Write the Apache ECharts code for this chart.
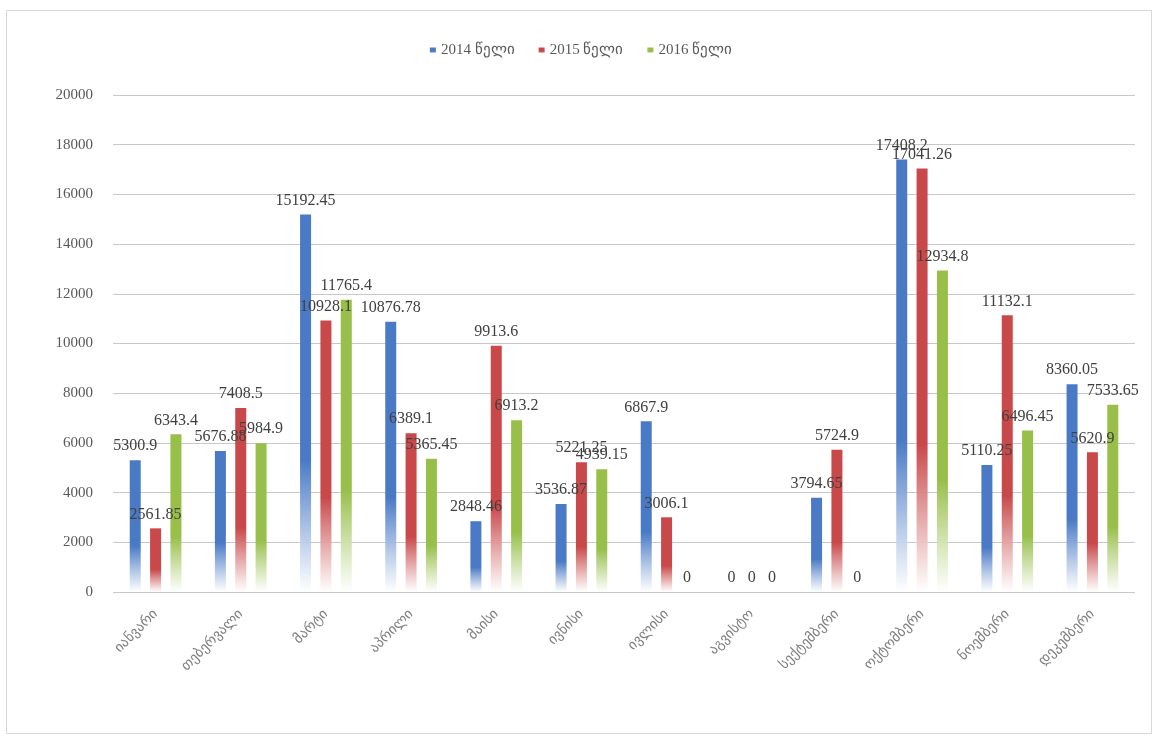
<!DOCTYPE html>
<html>
<head>
<meta charset="utf-8">
<script src="https://cdn.jsdelivr.net/npm/echarts@6/dist/echarts.min.js"></script>
<style>
  html, body { margin: 0; padding: 0; background: #fff; }
  #frame { position: absolute; left: 6px; top: 10px; width: 1146px; height: 724px; border: 1px solid #d9d9d9; box-sizing: border-box; }
  #main { width: 1162px; height: 742px; }
</style>
</head>
<body>
<div id="frame"></div>
<div id="main"></div>
<script>
// თვეები
const months = ['იანვარი', 'თებერვალი', 'მარტი', 'აპრილი', 'მაისი', 'ივნისი',
  'ივლისი', 'აგვისტო', 'სექტემბერი', 'ოქტომბერი', 'ნოემბერი', 'დეკემბერი'];
const seriesNames = ['2014 წელი', '2015 წელი', '2016 წელი'];
const values2014 = [5300.9, 5676.88, 15192.45, 10876.78, 2848.46, 3536.87, 6867.9, 0, 3794.65, 17408.2, 5110.25, 8360.05];
const values2015 = [2561.85, 7408.5, 10928.1, 6389.1, 9913.6, 5221.25, 3006.1, 0, 5724.9, 17041.26, 11132.1, 5620.9];
const values2016 = [6343.4, 5984.9, 11765.4, 5365.45, 6913.2, 4939.15, 0, 0, 0, 12934.8, 6496.45, 7533.65];
const colors = ['#4a7ac6', '#c9484a', '#97bf4a'];

function fade(c) {
  return new echarts.graphic.LinearGradient(0, 0, 0, 1, [
    { offset: 0, color: c },
    { offset: 0.65, color: c },
    { offset: 1, color: 'rgba(255,255,255,0.9)' }
  ]);
}

function makeSeries(name, data, i) {
  return {
    name: name,
    type: 'bar',
    data: data,
    barWidth: 11,
    barGap: '85%',
    itemStyle: { color: fade(colors[i]) },
    label: {
      show: true,
      position: 'top',
      distance: 6,
      color: '#404040',
      fontSize: 16,
      fontFamily: 'Liberation Serif'
    }
  };
}

let chart = echarts.init(document.getElementById('main'));
chart.setOption({
  animation: false,
  color: colors,
  legend: {
    top: 38,
    left: 'center',
    itemWidth: 6,
    itemHeight: 6,
    itemGap: 24,
    icon: 'rect',
    textStyle: { color: '#595959', fontSize: 15, fontFamily: 'Liberation Serif' },
    data: seriesNames
  },
  grid: { left: 113, right: 27, top: 95, bottom: 150 },
  xAxis: {
    type: 'category',
    data: months,
    axisLine: { show: false },
    axisTick: { show: false },
    axisLabel: {
      rotate: 45,
      margin: 20,
      color: '#7f7f7f',
      fontSize: 14,
      fontFamily: 'DejaVu Sans'
    }
  },
  yAxis: {
    type: 'value',
    min: 0,
    max: 20000,
    interval: 2000,
    axisLine: { show: false },
    axisTick: { show: false },
    axisLabel: {
      color: '#595959',
      fontSize: 15,
      margin: 20,
      fontFamily: 'Liberation Serif',
      formatter: function (v) { return String(v); }
    },
    splitLine: { lineStyle: { color: '#c8c8c8', width: 1 } }
  },
  series: [
    makeSeries(seriesNames[0], values2014, 0),
    makeSeries(seriesNames[1], values2015, 1),
    makeSeries(seriesNames[2], values2016, 2)
  ]
});
</script>
</body>
</html>
